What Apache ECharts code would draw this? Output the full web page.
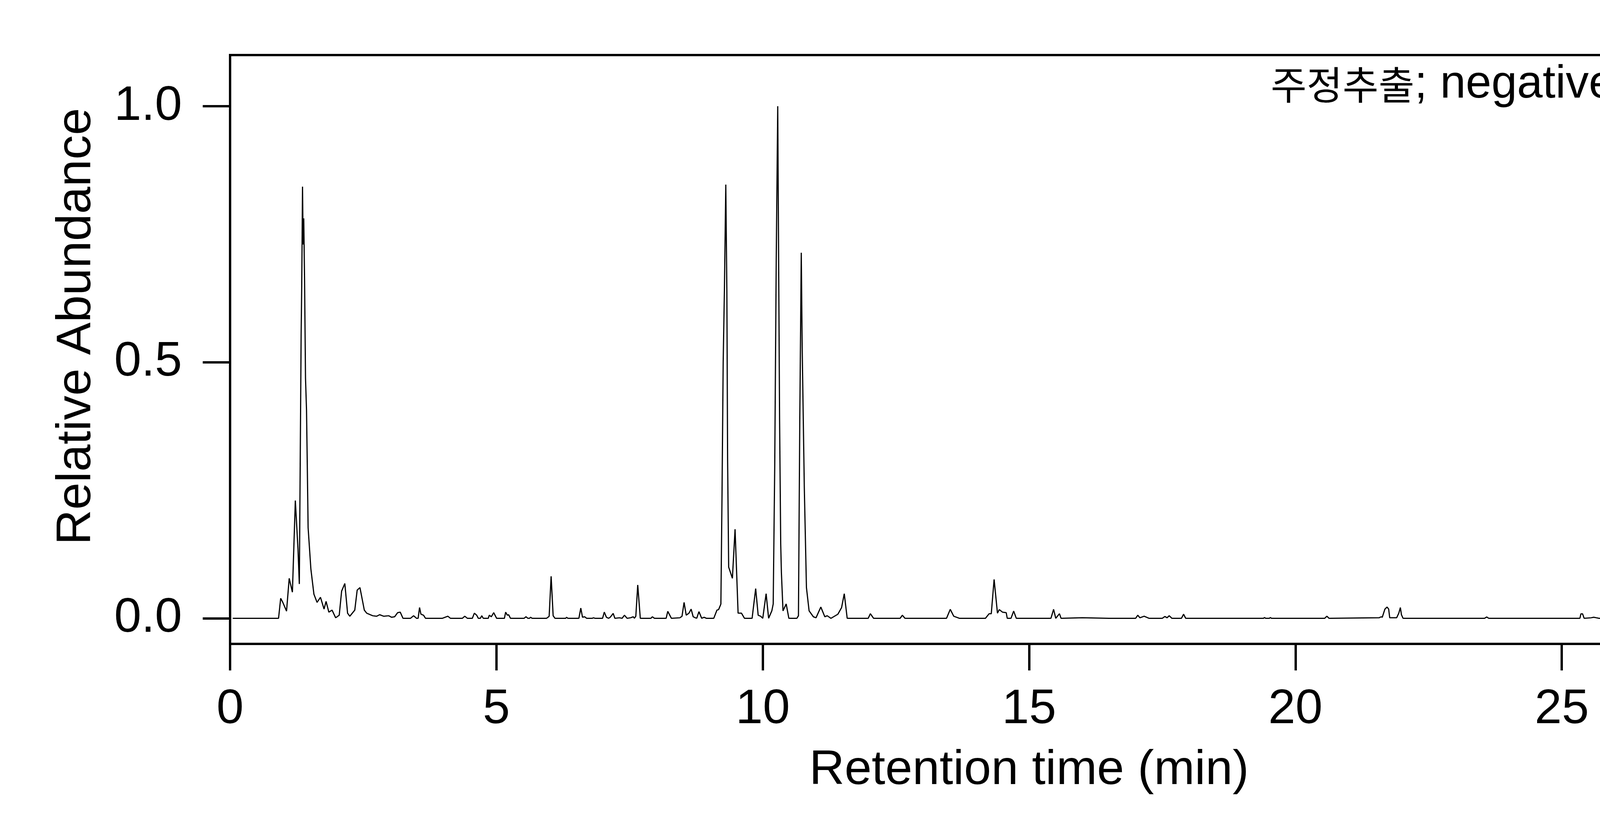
<!DOCTYPE html>
<html>
<head>
<meta charset="utf-8">
<script src="https://cdn.jsdelivr.net/npm/echarts@6/dist/echarts.min.js"></script>
<style>html,body{margin:0;padding:0;background:#fff;}#chart{width:6000px;height:2100px;}</style>
</head>
<body>
<div id="chart"></div>
<script>
// Retention time (min) and relative abundance
var retentionTime = [
0.05,0.91,0.95,0.99,1.06,1.11,1.17,1.225,1.275,1.30,1.32,1.334,1.345,1.36,1.371,1.383,1.398,1.416,1.435,1.45,1.465,1.517,1.574,1.633,1.697,1.764,1.802,1.854,1.914,1.982,
2.049,2.094,2.154,2.206,2.247,2.341,2.386,2.438,2.52,2.565,2.677,2.752,2.808,2.883,2.977,3.033,3.089,3.145,3.194,3.246,3.388,3.445,3.50,3.53,3.557,3.583,3.632,3.669,3.987,4.088,
4.136,4.361,4.406,4.454,4.548,4.586,4.63,4.66,4.70,4.724,4.754,4.847,4.866,4.904,4.949,5.004,5.15,5.173,5.205,5.229,5.264,5.52,5.555,5.59,5.62,5.642,5.67,5.94,5.968,5.99,
6.027,6.065,6.099,6.30,6.318,6.34,6.548,6.584,6.616,6.655,6.695,6.80,6.822,6.85,6.993,7.025,7.065,7.105,7.136,7.192,7.224,7.311,7.36,7.403,7.454,7.518,7.57,7.59,7.617,7.653,
7.701,7.90,7.927,7.967,8.186,8.217,8.285,8.444,8.484,8.523,8.563,8.615,8.655,8.694,8.734,8.76,8.802,8.853,8.90,8.94,9.08,9.14,9.171,9.203,9.214,9.235,9.257,9.28,9.306,9.326,
9.34,9.36,9.43,9.48,9.537,9.60,9.657,9.80,9.867,9.914,9.96,10.0,10.063,10.11,10.17,10.196,10.225,10.253,10.281,10.295,10.316,10.337,10.35,10.38,10.44,10.49,10.64,10.67,10.695,10.723,
10.74,10.78,10.82,10.87,10.95,11.0,11.09,11.165,11.21,11.28,11.41,11.48,11.53,11.585,11.98,12.02,12.08,12.58,12.62,12.67,13.45,13.47,13.52,13.585,13.69,14.18,14.25,14.29,14.343,14.406,
14.44,14.5,14.57,14.59,14.66,14.71,14.76,15.41,15.46,15.5,15.57,15.6,16.0,16.5,17.0,17.04,17.08,17.16,17.25,17.5,17.55,17.59,17.63,17.68,17.86,17.90,17.94,19.40,19.42,19.44,
19.51,19.53,19.55,20.55,20.59,20.63,21.57,21.61,21.63,21.68,21.72,21.75,21.77,21.9,21.94,21.97,21.99,22.02,23.55,23.59,23.63,25.34,25.36,25.39,25.42,25.55,25.6,25.65,25.7,26.02,
26.09,26.16,26.23,28.85,28.9,28.95,29.0,29.2,29.46,29.6,29.75,29.97
];
var abundance = [
0,0,0.039,0.031,0.014,0.078,0.051,0.230,0.135,0.067,0.353,0.555,0.648,0.843,0.730,0.781,0.664,0.469,0.407,0.294,0.177,0.096,0.047,0.031,0.041,0.018,0.033,0.012,0.016,0.001,
0.006,0.053,0.068,0.010,0.004,0.016,0.055,0.060,0.016,0.010,0.005,0.004,0.007,0.004,0.005,0.002,0.003,0.011,0.012,0,0,0.005,0,0,0.021,0.008,0.006,0,0,0.004,
0,0,0.004,0,0,0.010,0.006,0,0,0.005,0,0,0.006,0.003,0.011,0,0,0.012,0.006,0.007,0,0,0.003,0,0,0.002,0,0,0.002,0.004,
0.082,0.005,0,0,0.002,0,0,0.020,0.002,0.003,0,0,0.001,0,0,0.012,0.002,0,0.002,0.0095,0,0.001,0,0.006,0,0.001,0.003,0,0.004,0.065,
0,0,0.003,0,0,0.0136,0,0.001,0.004,0.031,0.006,0.010,0.018,0.003,0.001,0,0.013,0,0.002,0,0,0.016,0.017,0.025,0.028,0.24,0.50,0.64,0.847,0.64,
0.31,0.10,0.078,0.174,0.010,0.010,0,0,0.058,0.006,0.004,0,0.048,0,0.0145,0.028,0.30,0.70,1.0,0.75,0.386,0.145,0.089,0.0145,0.028,0,0,0.005,0.386,0.714,
0.53,0.255,0.06,0.0145,0.003,0.001,0.022,0.003,0.005,0,0.008,0.021,0.048,0,0,0.009,0,0,0.006,0,0,0.005,0.0175,0.004,0,0,0.009,0.009,0.076,0.010,
0.017,0.012,0.011,0,0,0.014,0,0,0.0175,0,0.009,0,0.001,0,0,0.006,0.001,0.004,0,0,0.0035,0.001,0.005,0,0,0.008,0,0,0.0015,0,
0,0.0015,0,0,0.004,0,0.001,0.003,0.002,0.018,0.022,0.018,0.001,0.001,0.010,0.021,0.007,0,0,0.0025,0,0,0.0088,0.0088,0,0.001,0.002,0.001,0,0,
0.006,0.005,0,0,0.0015,0.0025,0,0.001,0.0044,0.004,0.0015,0.001
];
var xTicks = [0, 5, 10, 15, 20, 25, 30];
var yTicks = [0, 0.5, 1.0];
var xTitle = 'Retention time (min)';
var yTitle = 'Relative Abundance';
var noteKo = '주정추출';
var noteEn = '; negative ion mode';

var seriesData = retentionTime.map(function (t, i) { return [t, abundance[i]]; });
var latin = "'Liberation Sans', Arial, sans-serif";
var chart = echarts.init(document.getElementById('chart'), null, {renderer: 'canvas'});
chart.setOption({
  animation: false,
  backgroundColor: '#fff',
  title: {
    text: '{k|' + noteKo + '}{l|' + noteEn + '}',
    right: 1349, top: 158, padding: 0,
    textStyle: {
      fontWeight: 'normal',
      rich: {
        k: {fontFamily: "'Noto Sans CJK KR', sans-serif", fontSize: 100, fontWeight: 'normal', color: '#000'},
        l: {fontFamily: latin, fontSize: 118, fontWeight: 'normal', color: '#000'}
      }
    }
  },
  grid: {left: 589, right: 1320, top: 141, bottom: 451, show: true, borderColor: '#000', borderWidth: 6, containLabel: false},
  xAxis: {
    type: 'value', min: xTicks[0], max: xTicks[xTicks.length - 1], interval: 5,
    name: xTitle, nameLocation: 'middle', nameGap: 262,
    nameTextStyle: {fontFamily: latin, fontSize: 125, color: '#000'},
    axisLine: {show: true, onZero: false, lineStyle: {color: '#000', width: 6}},
    axisTick: {show: true, inside: false, length: 68, lineStyle: {color: '#000', width: 6}},
    axisLabel: {fontFamily: latin, fontSize: 125, color: '#000', margin: 106, customValues: xTicks},
    splitLine: {show: false}
  },
  yAxis: {
    type: 'value', min: -0.05, max: 1.1,
    name: yTitle, nameLocation: 'middle', nameGap: 330,
    nameTextStyle: {fontFamily: latin, fontSize: 125, color: '#000', padding: [0, 0, 0, 118]},
    axisLine: {show: true, onZero: false, lineStyle: {color: '#000', width: 6}},
    axisTick: {show: true, inside: false, length: 70, lineStyle: {color: '#000', width: 6}, customValues: yTicks},
    axisLabel: {fontFamily: latin, fontSize: 125, color: '#000', margin: 123, customValues: yTicks,
      formatter: function (v) { return v.toFixed(1); }},
    splitLine: {show: false}
  },
  series: [{
    type: 'line', data: seriesData, symbol: 'none', smooth: false,
    lineStyle: {color: '#000', width: 3}, clip: true
  }]
});
</script>
</body>
</html>
